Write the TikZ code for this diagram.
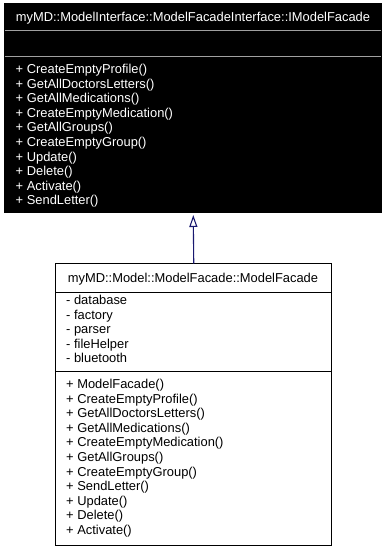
\documentclass[tikz,border=0pt]{standalone}
\usepackage{fontspec}
\setmainfont{Liberation Sans}
\usetikzlibrary{arrows.meta}
\definecolor{edgeblue}{RGB}{25,25,112}
\definecolor{sepgray}{RGB}{160,160,160}
\tikzset{
  classbox/.style={draw=black, line width=1pt, inner sep=0pt},
  ifacebox/.style={classbox, fill=black},
  sepline/.style={line width=0.8pt},
  member/.style={anchor=base west, inner sep=0pt, font=\fontsize{12.9}{15}\selectfont},
  title/.style={inner sep=0pt, font=\fontsize{12.9}{15}\selectfont},
  inherit/.style={draw=edgeblue, line width=1.1pt,
    -{Triangle[open, fill=white, length=12pt, width=8pt]}},
}
\begin{document}
\begin{tikzpicture}[x=1pt, y=-1pt]
  \useasboundingbox (0,0) rectangle (387,551);

  % interface class
  \path[ifacebox] (4.5,4) rectangle (381,212.5);
  \node[ifacebox, minimum width=376.5pt, minimum height=208.5pt, anchor=north west, draw=none, fill=none]
    (iface) at (4.5,4) {};
  \draw[sepline, draw=sepgray] (4.5,30) -- (381,30);
  \draw[sepline, draw=sepgray] (4.5,56) -- (381,56);
  \node[title, text=white, anchor=base] (ifacetitle) at (193,22)
    {myMD::ModelInterface::ModelFacadeInterface::IModelFacade};
  \foreach \m [count=\i from 0] in {CreateEmptyProfile(), GetAllDoctorsLetters(),
      GetAllMedications(), CreateEmptyMedication(), GetAllGroups(),
      CreateEmptyGroup(), Update(), Delete(), Activate(), SendLetter()} {
    \node[member, text=white] (im\i) at (15.5,{73.5+14.6*\i}) {+ \m};
  }

  % implementing class
  \path[classbox, fill=white] (55.5,263.5) rectangle (331,545);
  \node[classbox, draw=none, minimum width=275.5pt, minimum height=281.5pt, anchor=north west]
    (impl) at (55.5,263.5) {};
  \draw[sepline] (55.5,292.5) -- (331,292.5);
  \draw[sepline] (55.5,371.5) -- (331,371.5);
  \node[title, anchor=base] (impltitle) at (193,282.5)
    {myMD::Model::ModelFacade::ModelFacade};
  \foreach \a [count=\i from 0] in {database, factory, parser, fileHelper, bluetooth} {
    \node[member] (ia\i) at (66,{304.5+14.6*\i}) {- \a};
  }
  \foreach \m [count=\i from 0] in {ModelFacade(), CreateEmptyProfile(),
      GetAllDoctorsLetters(), GetAllMedications(), CreateEmptyMedication(),
      GetAllGroups(), CreateEmptyGroup(), SendLetter(), Update(), Delete(),
      Activate()} {
    \node[member] (mm\i) at (66,{388.5+14.6*\i}) {+ \m};
  }

  % generalization
  \draw[inherit] (impl.north) -- ([yshift=-1.5pt]iface.south);
\end{tikzpicture}
\end{document}
